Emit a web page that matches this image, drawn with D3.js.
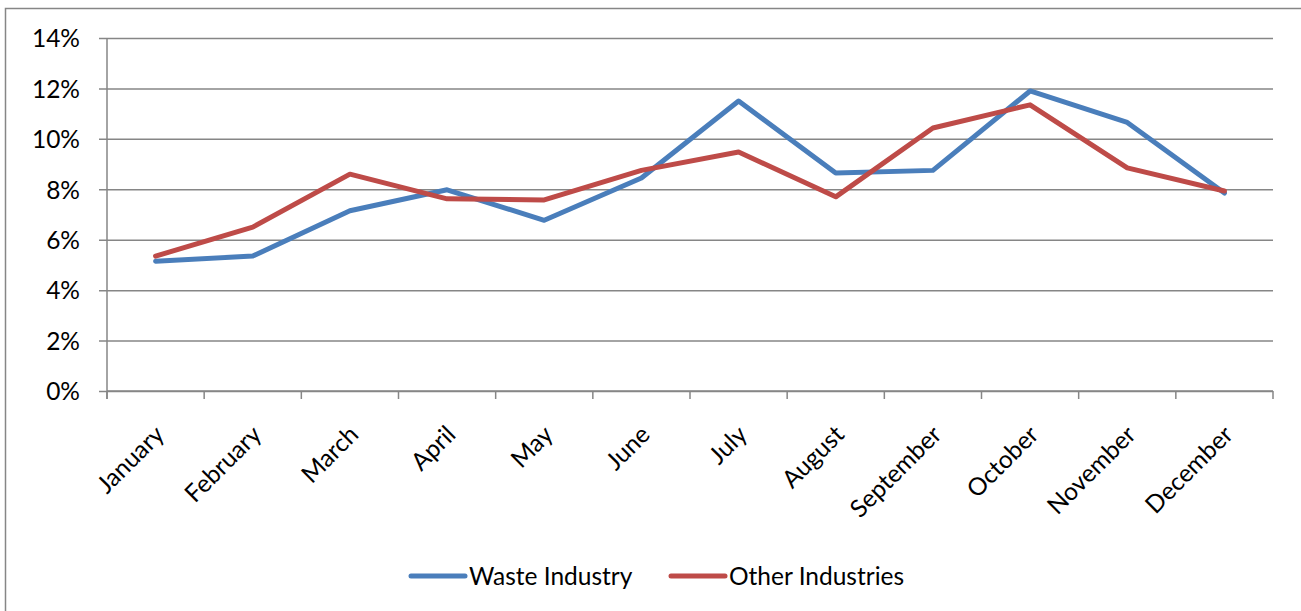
<!DOCTYPE html>
<html>
<head>
<meta charset="utf-8">
<script src="https://cdn.jsdelivr.net/npm/d3@7"></script>
<style>
  body { margin: 0; background: #fff; }
  text { font-family: Lato, "Open Sans", sans-serif; fill: #000; }
</style>
</head>
<body>
<div id="chart"></div>
<script>
// DATA
var months = ["January", "February", "March", "April", "May", "June",
  "July", "August", "September", "October", "November", "December"];
var waste = [5.15, 5.35, 7.15, 7.98, 6.77, 8.45, 11.5, 8.65, 8.75, 11.9, 10.65, 7.85];
var other = [5.35, 6.5, 8.6, 7.62, 7.58, 8.75, 9.48, 7.7, 10.43, 11.35, 8.85, 7.93];
var y_ticks = [0, 2, 4, 6, 8, 10, 12, 14];
var series_names = ["Waste Industry", "Other Industries"];

var width = 1301;
var height = 611;
var plot_left = 107;
var plot_right = 1273;
var plot_top = 38;
var plot_bottom = 391;
var grid_color = "#868686";
var series_color = ["#4A7EBB", "#BE4B48"];
var font_size = 24.5;

var svg = d3.select("#chart").append("svg")
  .attr("width", width)
  .attr("height", height);

// outer chart frame (runs off the right / bottom edge)
svg.append("rect")
  .attr("x", 5.5)
  .attr("y", 8.5)
  .attr("width", 1310)
  .attr("height", 700)
  .attr("fill", "white")
  .attr("stroke", grid_color)
  .attr("stroke-width", 1.5);

var x = d3.scaleBand()
  .domain(months)
  .range([plot_left, plot_right]);

var y = d3.scaleLinear()
  .domain([0, 14])
  .range([plot_bottom, plot_top]);

// gridlines + y axis
var yAxis = d3.axisLeft(y)
  .tickValues(y_ticks)
  .tickSize(plot_left - plot_right)
  .tickSizeOuter(0)
  .tickFormat(function(d) { return d + "%"; });

var gy = svg.append("g")
  .attr("transform", "translate(" + plot_left + ",0)")
  .call(yAxis);
gy.select(".domain").remove();
gy.selectAll(".tick line")
  .attr("stroke", grid_color)
  .attr("stroke-width", 1.5)
  .attr("x1", -8);
gy.selectAll(".tick text")
  .attr("x", -27)
  .attr("dy", "0.36em")
  .attr("font-size", font_size)
  .attr("font-family", "Lato, 'Open Sans', sans-serif")
  .attr("fill", "#000");

// left axis line
svg.append("line")
  .attr("x1", plot_left).attr("x2", plot_left)
  .attr("y1", plot_top).attr("y2", plot_bottom + 8)
  .attr("stroke", grid_color)
  .attr("stroke-width", 1.5);

// x axis with ticks on band edges
var band_edges = months.map(function(m) { return x(m); }).concat([plot_right]);
var gx = svg.append("g").attr("class", "xaxis");
gx.append("line")
  .attr("x1", plot_left).attr("x2", plot_right)
  .attr("y1", plot_bottom).attr("y2", plot_bottom)
  .attr("stroke", grid_color)
  .attr("stroke-width", 1.5);
gx.selectAll(".xtick")
  .data(band_edges)
  .enter().append("line")
    .attr("class", "xtick")
    .attr("x1", function(d) { return d; })
    .attr("x2", function(d) { return d; })
    .attr("y1", plot_bottom)
    .attr("y2", plot_bottom + 8)
    .attr("stroke", grid_color)
    .attr("stroke-width", 1.5);

gx.selectAll(".xlabel")
  .data(months)
  .enter().append("text")
    .attr("class", "xlabel")
    .attr("text-anchor", "end")
    .attr("font-size", font_size)
    .attr("transform", function(d) {
      var cx = x(d) + x.bandwidth() / 2 + 4;
      return "translate(" + cx + "," + (plot_bottom + 39) + ") rotate(-45)";
    })
    .attr("dy", "0.35em")
    .text(function(d) { return d; });

// lines
var line = d3.line()
  .x(function(d, i) { return x(months[i]) + x.bandwidth() / 2; })
  .y(function(d) { return y(d); });

[waste, other].forEach(function(vals, si) {
  svg.append("path")
    .datum(vals)
    .attr("fill", "none")
    .attr("stroke", series_color[si])
    .attr("stroke-width", 5)
    .attr("stroke-linejoin", "round")
    .attr("stroke-linecap", "round")
    .attr("d", line);
});

// legend
var legend_x = [410, 670];
var legend_y = 576;
var legend = svg.selectAll(".legend")
  .data(series_names)
  .enter().append("g")
    .attr("class", "legend")
    .attr("transform", function(d, i) { return "translate(" + legend_x[i] + "," + legend_y + ")"; });

legend.append("line")
  .attr("x1", 1).attr("x2", 55)
  .attr("y1", 0).attr("y2", 0)
  .attr("stroke", function(d, i) { return series_color[i]; })
  .attr("stroke-width", 5)
  .attr("stroke-linecap", "round");

legend.append("text")
  .attr("x", 59)
  .attr("dy", "0.35em")
  .attr("font-size", font_size)
  .text(function(d) { return d; });
</script>
</body>
</html>
